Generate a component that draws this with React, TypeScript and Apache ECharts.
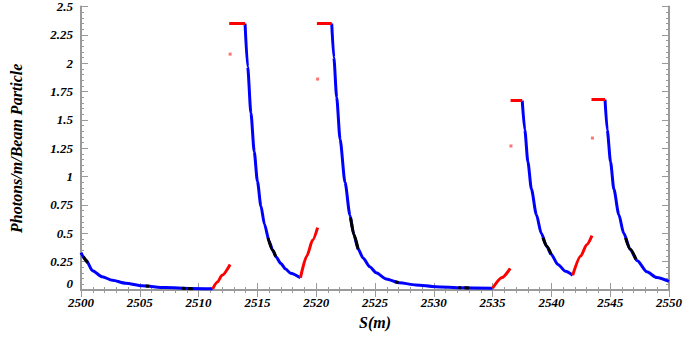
import React, { useEffect, useRef } from "react";
import * as echarts from "echarts";

// Blue decay curves (S in m, photons/m/beam particle)
const blueTail0: [number, number][] = [
  [2500.0, 0.33], [2500.42, 0.264], [2500.98, 0.17], [2501.8, 0.117], [2502.67, 0.086],
  [2503.8, 0.059], [2505.2, 0.037], [2507.15, 0.021], [2509.4, 0.013], [2511.2, 0.01],
];
const blueDecay1: [number, number][] = [
  [2513.95, 2.35], [2514.17, 1.97], [2514.45, 1.56], [2514.73, 1.22], [2515.0, 0.96],
  [2515.3, 0.74], [2515.6, 0.58], [2516.0, 0.43], [2516.3, 0.35], [2516.6, 0.29],
  [2516.98, 0.235], [2517.4, 0.185], [2517.82, 0.148], [2518.66, 0.108],
];
const blueDecay2: [number, number][] = [
  [2521.32, 2.35], [2521.5, 2.05], [2521.74, 1.7], [2522.03, 1.33], [2522.45, 0.95],
  [2522.87, 0.66], [2523.2, 0.49], [2523.57, 0.36], [2524.0, 0.28], [2524.55, 0.205],
  [2525.1, 0.152], [2525.95, 0.098], [2527.08, 0.064], [2528.48, 0.044], [2530.16, 0.029],
  [2532.4, 0.02], [2535.0, 0.015],
];
const blueDecay3: [number, number][] = [
  [2537.52, 1.67], [2537.74, 1.41], [2538.0, 1.13], [2538.3, 0.89], [2538.72, 0.665],
  [2539.14, 0.5], [2539.6, 0.385], [2539.98, 0.315], [2540.55, 0.225], [2541.2, 0.165],
  [2541.81, 0.13],
];
const blueDecay4: [number, number][] = [
  [2544.56, 1.68], [2544.75, 1.41], [2545.03, 1.13], [2545.31, 0.89], [2545.73, 0.665],
  [2546.15, 0.5], [2546.7, 0.36], [2547.28, 0.26], [2548.12, 0.16], [2548.96, 0.11],
  [2550.0, 0.075],
];

// Black stretches over the blue curves
const blackParts: [number, number][][] = [
  [[2500.2, 0.295], [2500.56, 0.24]],
  [[2505.5, 0.035], [2505.8, 0.033]],
  [[2508.6, 0.015], [2508.9, 0.014]],
  [[2509.1, 0.013], [2509.5, 0.012]],
  [[2515.9, 0.46], [2516.3, 0.35], [2516.56, 0.295]],
  [[2522.92, 0.64], [2523.2, 0.49], [2523.57, 0.36]],
  [[2526.7, 0.072], [2527.0, 0.066]],
  [[2532.1, 0.021], [2532.3, 0.02]],
  [[2532.6, 0.019], [2533.0, 0.018]],
  [[2539.28, 0.46], [2539.6, 0.385], [2539.98, 0.315]],
  [[2546.3, 0.46], [2546.7, 0.36], [2547.2, 0.27]],
];

// Red rising stretches
const redRise1: [number, number][] = [[2511.2, 0.01], [2511.6, 0.07], [2512.0, 0.13], [2512.68, 0.225]];
const redRise2: [number, number][] = [[2518.66, 0.108], [2519.2, 0.3], [2519.7, 0.44], [2520.12, 0.55]];
const redRise3: [number, number][] = [[2535.0, 0.015], [2535.8, 0.11], [2536.5, 0.19]];
const redRise4: [number, number][] = [[2541.81, 0.13], [2542.5, 0.3], [2543.0, 0.4], [2543.45, 0.48]];

// Red flat tops
const redFlats: [number, number][][] = [
  [[2512.6, 2.35], [2513.95, 2.35]],
  [[2520.06, 2.35], [2521.32, 2.35]],
  [[2536.53, 1.67], [2537.52, 1.67]],
  [[2543.41, 1.68], [2544.56, 1.68]],
];

// Isolated red points
const redDots: [number, number][] = [
  [2512.68, 2.08], [2520.12, 1.86], [2536.56, 1.27], [2543.49, 1.34],
];

const xTicks = { min: 2500, max: 2550, interval: 5 };
const yTicks = { min: 0, max: 2.5, interval: 0.25 };

const FONT = "'Liberation Serif', 'DejaVu Serif', serif";

export default function App() {
  const ref = useRef<HTMLDivElement>(null);
  useEffect(() => {
    if (!ref.current) return;
    document.body.style.margin = "0";
    const chart = echarts.init(ref.current, null, { renderer: "svg" });
    const lineSeries = (data: [number, number][], color: string, smooth = true) => ({
      type: "line",
      data,
      showSymbol: false,
      symbol: "none",
      smooth: smooth ? 0.25 : false,
      smoothMonotone: "x",
      lineStyle: { color, width: 3 },
      silent: true,
      z: color === "#000000" ? 4 : 3,
    });
    const axisLine = { show: true, lineStyle: { color: "#9a9a9a", width: 2 } };
    const axisTick = { show: true, inside: true, length: 7, lineStyle: { color: "#9a9a9a", width: 1 } };
    const minorTick = { show: true, splitNumber: 5, length: 3, lineStyle: { color: "#9a9a9a", width: 1 } };
    const labelStyle = {
      color: "#000",
      fontFamily: FONT,
      fontStyle: "italic",
      fontWeight: "bold",
      fontSize: 13,
    };
    chart.setOption({
      animation: false,
      backgroundColor: "#fff",
      grid: { left: 75, right: 23, top: 6, bottom: 53 },
      xAxis: [
        {
          type: "value",
          ...xTicks,
          axisLine,
          axisTick,
          minorTick,
          splitLine: { show: false },
          axisLabel: { ...labelStyle, margin: 6, formatter: (v: number) => String(v) },
          name: "S(m)",
          nameLocation: "middle",
          nameGap: 24,
          nameTextStyle: { ...labelStyle, fontSize: 16 },
        },
        {
          type: "value",
          position: "top",
          ...xTicks,
          axisLine,
          axisTick,
          minorTick,
          splitLine: { show: false },
          axisLabel: { show: false },
        },
      ],
      yAxis: [
        {
          type: "value",
          ...yTicks,
          axisLine,
          axisTick,
          minorTick,
          splitLine: { show: false },
          axisLabel: {
            ...labelStyle,
            margin: 8,
            verticalAlignMinLabel: "bottom",
            lineHeight: 13,
          },
          name: "Photons/m/Beam Particle",
          nameLocation: "middle",
          nameGap: 57,
          nameTextStyle: { ...labelStyle, fontSize: 16 },
        },
        {
          type: "value",
          position: "right",
          ...yTicks,
          axisLine,
          axisTick,
          minorTick,
          splitLine: { show: false },
          axisLabel: { show: false },
        },
      ],
      series: [
        lineSeries(blueTail0, "#0000ff"),
        lineSeries(blueDecay1, "#0000ff"),
        lineSeries(blueDecay2, "#0000ff"),
        lineSeries(blueDecay3, "#0000ff"),
        lineSeries(blueDecay4, "#0000ff"),
        ...blackParts.map((p) => lineSeries(p, "#000000")),
        lineSeries(redRise1, "#ff0000"),
        lineSeries(redRise2, "#ff0000"),
        lineSeries(redRise3, "#ff0000"),
        lineSeries(redRise4, "#ff0000"),
        ...redFlats.map((p) => lineSeries(p, "#ff0000", false)),
        {
          type: "scatter",
          data: redDots,
          symbol: "rect",
          symbolSize: 3,
          itemStyle: { color: "#ff5050" },
          silent: true,
        },
      ],
    });
    return () => chart.dispose();
  }, []);
  return <div ref={ref} style={{ width: 692, height: 343 }} />;
}
